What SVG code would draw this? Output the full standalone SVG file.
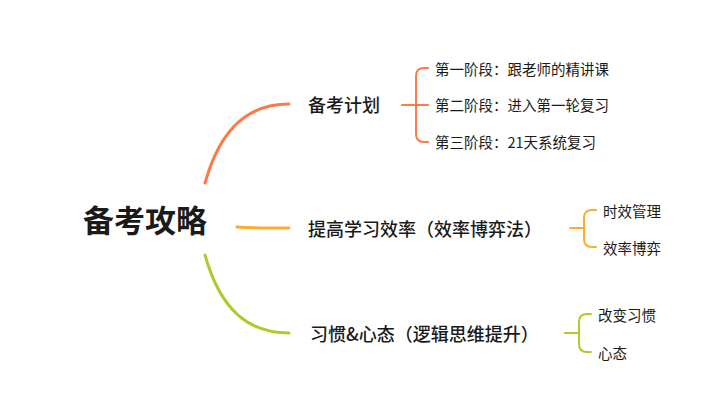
<svg xmlns="http://www.w3.org/2000/svg" width="720" height="420" viewBox="0 0 720 420">
<style>
text{font-family:"Noto Sans CJK SC","Noto Sans",sans-serif;fill:#1a1a1a;dominant-baseline:central}
.root{font-size:31px;font-weight:700}
.main{font-size:18px;font-weight:500}
.leaf{font-size:14.5px;font-weight:400}
.c{fill:none;stroke-width:3;stroke-linecap:round}
.b{fill:none;stroke-width:2;stroke-linecap:round}
.o{stroke:#FF7A48}
.y{stroke:#FFAA30}
.g{stroke:#B2C92A}
</style>
<rect width="720" height="420" fill="#ffffff"/>
<g id="connectors">
<path class="c o" d="M205,183 C221,126 250,104 289,104"/>
<path class="c y" d="M237,227 C255,228 270,228 289,228"/>
<path class="c g" d="M205,255 C221,312 250,333 289,333"/>
<path class="b o" d="M402,105 H428 M428,68 H424 Q416,68 416,76 V134 Q416,142 424,142 H428"/>
<path class="b y" d="M570,228 H584 M596,210 H592 Q584,210 584,218 V239 Q584,247 592,247 H596"/>
<path class="b g" d="M565,333 H579 M591,314 H587 Q579,314 579,322 V344 Q579,352 587,352 H591"/>
</g>
<g id="root"><text class="root" x="83" y="218">备考攻略</text></g>
<g id="n1"><text class="main" x="308" y="104">备考计划</text></g>
<g id="n1a"><text class="leaf" x="435" y="68">第一阶段：跟老师的精讲课</text></g>
<g id="n1b"><text class="leaf" x="435" y="104">第二阶段：进入第一轮复习</text></g>
<g id="n1c"><text class="leaf" x="435" y="141">第三阶段：21天系统复习</text></g>
<g id="n2"><text class="main" x="308" y="228">提高学习效率（效率博弈法）</text></g>
<g id="n2a"><text class="leaf" x="603" y="210">时效管理</text></g>
<g id="n2b"><text class="leaf" x="603" y="247">效率博弈</text></g>
<g id="n3"><text class="main" x="310" y="333">习惯&amp;心态（逻辑思维提升）</text></g>
<g id="n3a"><text class="leaf" x="598" y="314">改变习惯</text></g>
<g id="n3b"><text class="leaf" x="598" y="352">心态</text></g>
</svg>
